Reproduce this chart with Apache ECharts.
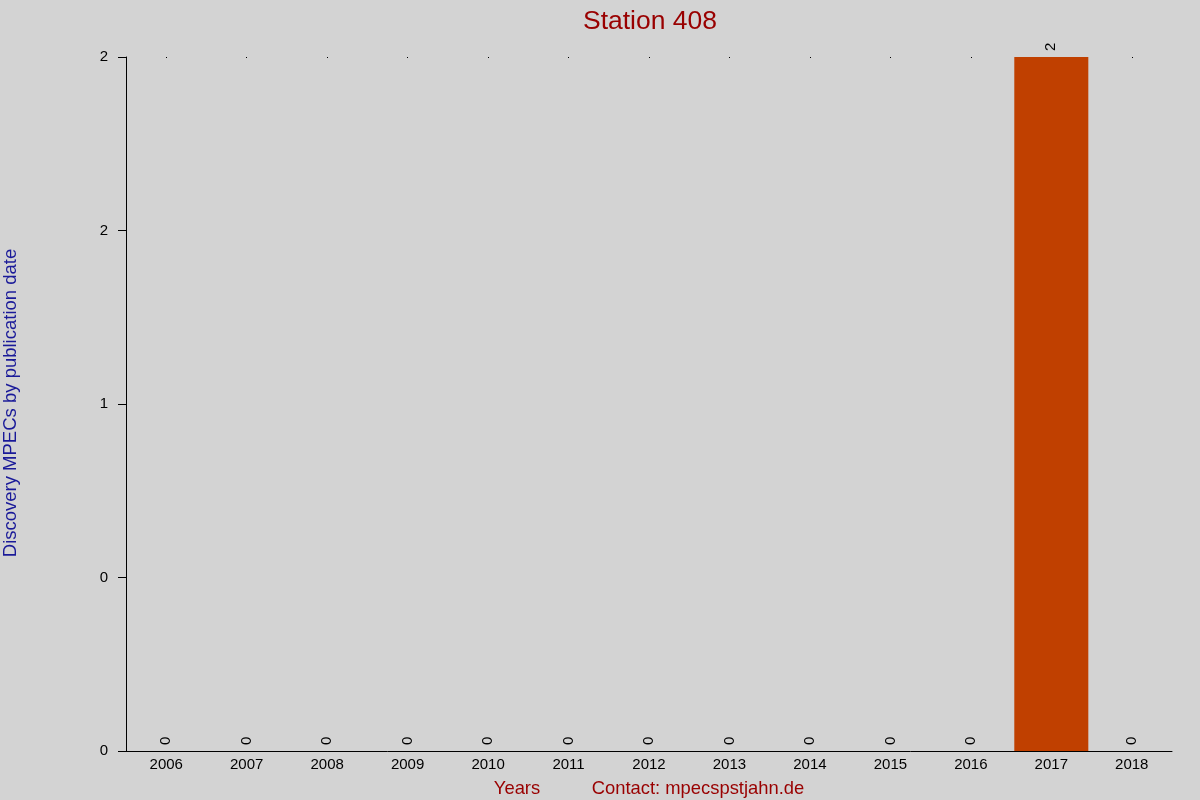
<!DOCTYPE html>
<html>
<head>
    <meta charset="utf-8">
    <title>Station 408</title>
    <script type="text/javascript" src="https://cdn.jsdelivr.net/npm/echarts@6/dist/echarts.min.js"></script>
    <style>
        html, body { margin: 0; padding: 0; background: #d3d3d3; }
    </style>
</head>
<body>
    <div id="main" style="width:1200px; height:800px;"></div>
    <script type="text/javascript">

    // data
    var years = ['2006', '2007', '2008', '2009', '2010', '2011', '2012',
                 '2013', '2014', '2015', '2016', '2017', '2018'];
    var counts = [0, 0, 0, 0, 0, 0, 0, 0, 0, 0, 0, 2, 0];
    // y tick labels as printed (ticks at 0, 0.5, 1, 1.5, 2, rounded)
    var yTickLabels = ['0', '0', '1', '2', '2'];

    var myChart = echarts.init(document.getElementById('main'));
    var font = 'Liberation Sans, Arial, sans-serif';

    var option = {
        backgroundColor: '#d3d3d3',
        animation: false,
        title: [
            {
                text: 'Station 408',
                left: 645,
                top: 3,
                textAlign: 'center',
                textStyle: { color: '#990000', fontSize: 26.5, fontWeight: 'normal', fontFamily: font }
            },
            {
                text: 'Years',
                left: 512,
                top: 775,
                textAlign: 'center',
                textStyle: { color: '#990000', fontSize: 18.4, fontWeight: 'normal', fontFamily: font }
            },
            {
                text: 'Contact: mpecspstjahn.de',
                left: 693,
                top: 775,
                textAlign: 'center',
                textStyle: { color: '#990000', fontSize: 18.4, fontWeight: 'normal', fontFamily: font }
            }
        ],
        grid: {
            left: 126,
            right: 28,
            top: 57,
            bottom: 49,
            containLabel: false,
            outerBoundsMode: 'none'
        },
        xAxis: [
            {
                type: 'category',
                data: years,
                position: 'bottom',
                axisLine: { show: true, lineStyle: { color: '#000', width: 1 } },
                axisTick: { show: false },
                axisLabel: { color: '#000', fontSize: 15, fontFamily: font, margin: 6 }
            },
            {
                // little dots along the top of the plot
                type: 'category',
                data: years,
                position: 'top',
                axisLine: { show: false },
                axisTick: { show: true, alignWithLabel: true, inside: true, length: 1, lineStyle: { color: '#000' } },
                axisLabel: { show: false }
            }
        ],
        yAxis: {
            type: 'value',
            min: 0,
            max: 2,
            interval: 0.5,
            axisLine: { show: true, lineStyle: { color: '#000', width: 1 } },
            axisTick: { show: true, length: 8, lineStyle: { color: '#000' } },
            splitLine: { show: false },
            axisLabel: {
                color: '#000',
                fontSize: 15,
                fontFamily: font,
                margin: 18,
                formatter: function (v) {
                    return yTickLabels[Math.round(v / 0.5)];
                }
            }
        },
        graphic: [
            {
                // the x axis line runs a little past the y axis
                type: 'line',
                shape: { x1: 118, y1: 751.5, x2: 126, y2: 751.5 },
                style: { stroke: '#000', lineWidth: 1 }
            },
            {
                // y axis title
                type: 'text',
                x: 11,
                y: 403,
                rotation: Math.PI / 2,
                style: {
                    text: 'Discovery MPECs by publication date',
                    fill: '#1a1a99',
                    font: '18.5px ' + font,
                    textAlign: 'center',
                    textVerticalAlign: 'middle'
                }
            }
        ],
        series: [
            {
                type: 'bar',
                data: counts,
                barCategoryGap: '8%',
                itemStyle: { color: '#c04000' },
                label: {
                    show: true,
                    position: 'top',
                    rotate: 90,
                    align: 'left',
                    verticalAlign: 'middle',
                    distance: 6,
                    color: '#000',
                    fontSize: 15,
                    fontFamily: font
                }
            }
        ]
    };

    myChart.setOption(option);
    </script>
</body>
</html>
